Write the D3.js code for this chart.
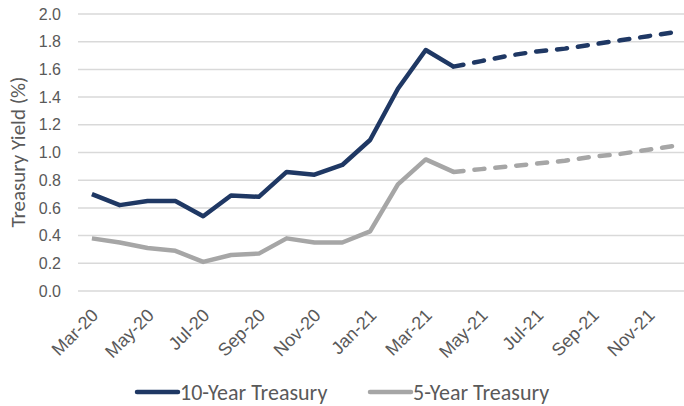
<!DOCTYPE html>
<html>
<head>
<meta charset="utf-8">
<script src="https://cdn.jsdelivr.net/npm/d3@7"></script>
<style>
  body { margin: 0; background: #fff; }
  svg { display: block; font-family: Calibri, Carlito, Lato, 'Open Sans', sans-serif; }
</style>
</head>
<body>
<div id="chart"></div>
<script>
// months Mar-20 .. Dec-21
const months = ['Mar-20', 'Apr-20', 'May-20', 'Jun-20', 'Jul-20', 'Aug-20', 'Sep-20', 'Oct-20', 'Nov-20', 'Dec-20',
    'Jan-21', 'Feb-21', 'Mar-21', 'Apr-21', 'May-21', 'Jun-21', 'Jul-21', 'Aug-21', 'Sep-21', 'Oct-21', 'Nov-21', 'Dec-21'];
const tickLabels = ['Mar-20', 'May-20', 'Jul-20', 'Sep-20', 'Nov-20', 'Jan-21', 'Mar-21', 'May-21', 'Jul-21', 'Sep-21', 'Nov-21'];
const yTicks = [0, 0.2, 0.4, 0.6, 0.8, 1.0, 1.2, 1.4, 1.6, 1.8, 2.0];

// actual values (solid) up to Apr-21, forecast (dashed) after
const tenYearActual = [0.70, 0.62, 0.65, 0.65, 0.54, 0.69, 0.68, 0.86, 0.84, 0.91, 1.09, 1.46, 1.74, 1.62];
const tenYearForecast = [1.62, 1.66, 1.70, 1.73, 1.75, 1.78, 1.81, 1.84, 1.87];
const fiveYearActual = [0.38, 0.35, 0.31, 0.29, 0.21, 0.26, 0.27, 0.38, 0.35, 0.35, 0.43, 0.77, 0.95, 0.86];
const fiveYearForecast = [0.86, 0.88, 0.90, 0.92, 0.94, 0.97, 0.99, 1.02, 1.05];

const navy = '#1f3864',
      grey = '#a6a6a6',
      textColor = '#595959';

const fullWidth = 684, fullHeight = 406;
const margin = {left: 78, right: -6, top: 14, bottom: 115};
const width = fullWidth - margin.left - margin.right,
      height = fullHeight - margin.top - margin.bottom;

const svg = d3.select('#chart')
    .append('svg')
    .attr('width', fullWidth)
    .attr('height', fullHeight);

const g = svg.append('g')
    .attr('transform', 'translate(' + margin.left + ',' + margin.top + ')');

const x = d3.scaleBand()
    .domain(months)
    .range([0, width]);

const y = d3.scaleLinear()
    .domain([0, 2])
    .range([height, 0]);

const xc = d => x(d) + x.bandwidth() / 2;

// gridlines
g.selectAll('.grid')
    .data(yTicks)
    .enter()
    .append('line')
    .attr('class', 'grid')
    .attr('x1', 0)
    .attr('x2', fullWidth - margin.left)
    .attr('y1', d => y(d))
    .attr('y2', d => y(d))
    .attr('stroke', '#d9d9d9')
    .attr('stroke-width', 1.5);

// y axis labels
const yAxis = d3.axisLeft(y).tickValues(yTicks).tickSize(0).tickPadding(17).tickFormat(d3.format('.1f'));
const yG = g.append('g').call(yAxis);
yG.select('.domain').remove();
yG.selectAll('text')
    .attr('fill', textColor)
    .attr('font-size', '16px')
    .attr('font-family', null);

// x axis labels
const xAxis = d3.axisBottom(x).tickValues(tickLabels).tickSize(0).tickPadding(0);
const xG = g.append('g')
    .attr('transform', 'translate(0,' + height + ')')
    .call(xAxis);
xG.select('.domain').remove();
xG.selectAll('text')
    .attr('fill', textColor)
    .attr('font-size', '18px')
    .attr('font-family', null)
    .attr('text-anchor', 'end')
    .attr('dy', '0.35em')
    .attr('transform', 'translate(3,21) rotate(-45)');

// y title
svg.append('text')
    .attr('transform', 'translate(18,152) rotate(-90)')
    .attr('text-anchor', 'middle')
    .attr('dy', '0.35em')
    .attr('fill', textColor)
    .attr('font-size', '21px')
    .text('Treasury Yield (%)');

const line = d3.line()
    .x(d => xc(d.m))
    .y(d => y(d.v));

const toPts = (vals, start) => vals.map((v, i) => ({m: months[start + i], v: v}));
const forecastStart = tenYearActual.length - 1;

const series = [
    {pts: toPts(fiveYearActual, 0), color: grey, dash: null},
    {pts: toPts(fiveYearForecast, forecastStart), color: grey, dash: '10,11'},
    {pts: toPts(tenYearActual, 0), color: navy, dash: null},
    {pts: toPts(tenYearForecast, forecastStart), color: navy, dash: '10,11'}
];

series.forEach(s => {
    g.append('path')
        .datum(s.pts)
        .attr('d', line)
        .attr('fill', 'none')
        .attr('stroke', s.color)
        .attr('stroke-width', 4.5)
        .attr('stroke-linejoin', 'round')
        .attr('stroke-linecap', s.dash ? 'round' : 'butt')
        .attr('stroke-dasharray', s.dash);
});

// legend
const legendItems = [
    {label: '10-Year Treasury', color: navy, x: 137},
    {label: '5-Year Treasury', color: grey, x: 370}
];
const legend = svg.selectAll('.legend')
    .data(legendItems)
    .enter()
    .append('g')
    .attr('class', 'legend')
    .attr('transform', d => 'translate(' + d.x + ',392)');

legend.append('line')
    .attr('x1', 0)
    .attr('x2', 41)
    .attr('stroke', d => d.color)
    .attr('stroke-width', 4.5)
    .attr('stroke-linecap', 'round');

legend.append('text')
    .attr('x', 43)
    .attr('dy', '0.35em')
    .attr('fill', textColor)
    .attr('font-size', '22px')
    .text(d => d.label);
</script>
</body>
</html>
